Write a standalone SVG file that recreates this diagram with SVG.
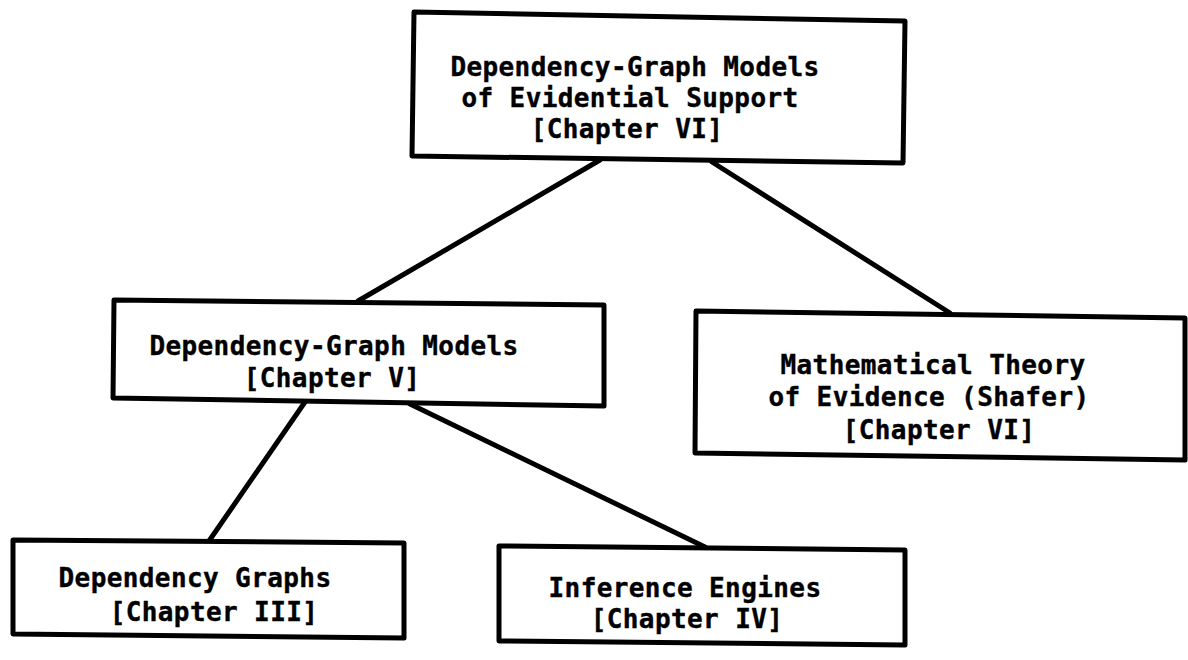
<svg xmlns="http://www.w3.org/2000/svg" width="1188" height="660" viewBox="0 0 1188 660">
  <style>
    .box { fill: #fff; stroke: #000; stroke-width: 5; stroke-linejoin: round; }
    .edge { stroke: #000; stroke-width: 5; stroke-linecap: round; fill: none; }
    text { font-family: "DejaVu Sans Mono", "Liberation Mono", monospace; font-weight: bold;
           font-size: 26px; letter-spacing: 0.4px; fill: #000; stroke: #000; stroke-width: 0.4;
           text-anchor: middle; }
  </style>
  <rect width="1188" height="660" fill="#fff"/>

  <!-- tree connectors, drawn under the boxes -->
  <g id="connectors">
    <line class="edge" x1="600" y1="160" x2="358" y2="301"/>
    <line class="edge" x1="712" y1="162" x2="950" y2="313"/>
    <line class="edge" x1="305" y1="402" x2="209" y2="541"/>
    <line class="edge" x1="410" y1="404" x2="705" y2="547"/>
  </g>

  <g id="node-dg-evidential">
    <polygon class="box" points="414,12 905,21 903,163 412,156"/>
    <text x="635" y="76">Dependency-Graph Models</text>
    <text x="630" y="107">of Evidential Support</text>
    <text x="627" y="138">[Chapter VI]</text>
  </g>

  <g id="node-dg-models">
    <polygon class="box" points="114,300 604,305 604,406 113,398"/>
    <text x="334" y="355">Dependency-Graph Models</text>
    <text x="332" y="387">[Chapter V]</text>
  </g>

  <g id="node-shafer">
    <polygon class="box" points="696,311 1185,318 1185,460 695,453"/>
    <text x="933" y="374">Mathematical Theory</text>
    <text x="929" y="406">of Evidence (Shafer)</text>
    <text x="939" y="439">[Chapter VI]</text>
  </g>

  <g id="node-dep-graphs">
    <polygon class="box" points="13,540 404,543 404,638 13,634"/>
    <text x="195" y="587">Dependency Graphs</text>
    <text x="214" y="621">[Chapter III]</text>
  </g>

  <g id="node-inference">
    <polygon class="box" points="499,546 905,550 905,645 499,641"/>
    <text x="685" y="597">Inference Engines</text>
    <text x="687" y="628">[Chapter IV]</text>
  </g>
</svg>
